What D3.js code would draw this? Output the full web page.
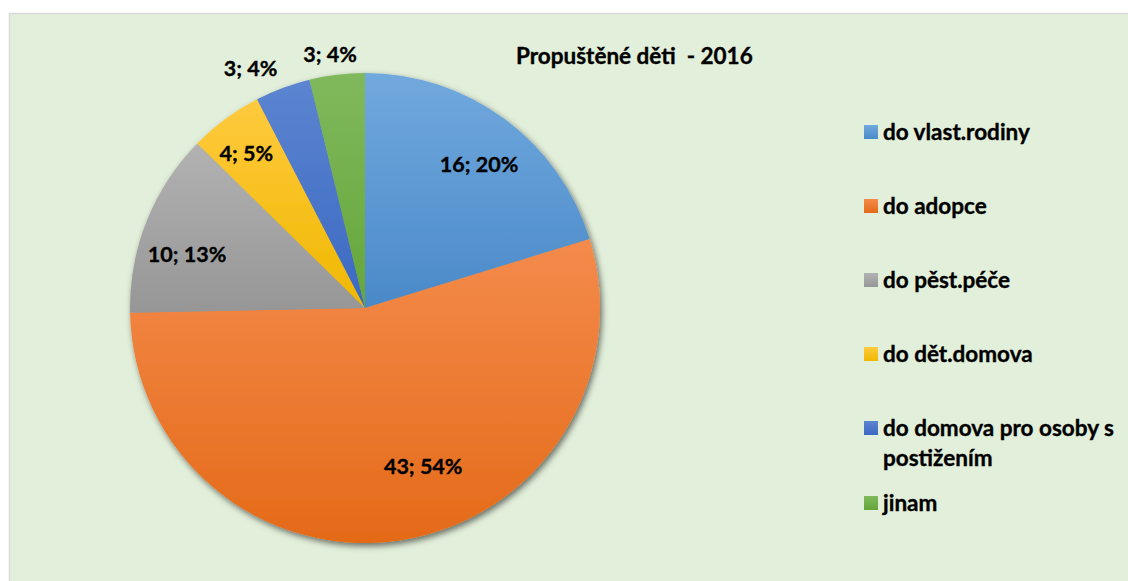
<!DOCTYPE html>
<html>
<head>
<meta charset="utf-8">
<script src="https://cdn.jsdelivr.net/npm/d3@7"></script>
<style>
  body { margin: 0; background: #fff; }
  text { font-family: Lato, "Open Sans", sans-serif; font-weight: 700; fill: #000; stroke: #000; stroke-width: 0.35px; }
</style>
</head>
<body>
<div id="chart"></div>
<script>
var width = 1128, height = 581;

// data
var categories = ["do vlast.rodiny", "do adopce", "do pěst.péče", "do dět.domova", "do domova pro osoby s postižením", "jinam"];
var counts = [16, 43, 10, 4, 3, 3];
var percents = ["20%", "54%", "13%", "5%", "4%", "4%"];
var legendLines = [["do vlast.rodiny"], ["do adopce"], ["do pěst.péče"], ["do dět.domova"], ["do domova pro osoby s", "postižením"], ["jinam"]];
var title = "Propuštěné děti  - 2016";

// colours: [top, bottom] of each slice gradient
var colors = [
  ["#71A9DE", "#4A89C8"],
  ["#F48B4C", "#E46A18"],
  ["#B2B2B2", "#969696"],
  ["#FFCA3E", "#EFB800"],
  ["#5C85D0", "#3B68C2"],
  ["#80B95C", "#64A63A"]
];

// label placement (fraction of radius, nudge in degrees)
var labelRadius = [0.78, 0.72, 0.79, 0.83, 1.13, 1.09];
var labelNudge = [2, -11, -5, -1, -5, -1];

var cx = 365, cy = 308, radius = 235;

var svg = d3.select("#chart").append("svg")
  .attr("width", width)
  .attr("height", height);

var defs = svg.append("defs");

colors.forEach(function(c, i) {
  var g = defs.append("linearGradient")
    .attr("id", "grad" + i)
    .attr("x1", 0).attr("y1", 0).attr("x2", 0).attr("y2", 1);
  g.append("stop").attr("offset", "0%").attr("stop-color", c[0]);
  g.append("stop").attr("offset", "100%").attr("stop-color", c[1]);
});

var shadow = defs.append("filter")
  .attr("id", "shadow")
  .attr("x", "-10%").attr("y", "-10%").attr("width", "120%").attr("height", "120%");
shadow.append("feDropShadow")
  .attr("dx", 2).attr("dy", 3)
  .attr("stdDeviation", 3)
  .attr("flood-color", "#000")
  .attr("flood-opacity", 0.55);

// chart background
svg.append("rect")
  .attr("x", 9.5).attr("y", 13.5)
  .attr("width", width + 10).attr("height", height + 10)
  .attr("fill", "#E2EFDA")
  .attr("stroke", "#D9D9D9")
  .attr("stroke-width", 1.5);

// title
svg.append("text")
  .attr("x", 516).attr("y", 64)
  .style("font-size", "22.5px")
  .style("white-space", "pre")
  .text(title);

var pie = d3.pie().sort(null).value(function(d) { return d; });
var arcs = pie(counts);

var arc = d3.arc().innerRadius(0).outerRadius(radius);

var g = svg.append("g")
  .attr("transform", "translate(" + cx + "," + cy + ")");

g.append("g")
  .attr("filter", "url(#shadow)")
  .selectAll("path")
  .data(arcs)
  .enter()
  .append("path")
  .attr("d", arc)
  .attr("fill", function(d, i) { return "url(#grad" + i + ")"; });

// data labels
g.selectAll(".label")
  .data(arcs)
  .enter()
  .append("text")
  .attr("class", "label")
  .attr("transform", function(d, i) {
    var a = (d.startAngle + d.endAngle) / 2 + labelNudge[i] * Math.PI / 180;
    var r = radius * labelRadius[i];
    return "translate(" + (Math.sin(a) * r) + "," + (-Math.cos(a) * r) + ")";
  })
  .attr("text-anchor", "middle")
  .attr("dy", "0.35em")
  .style("font-size", "21.5px")
  .text(function(d, i) { return counts[i] + "; " + percents[i]; });

// legend
var legendY = [132, 206, 280, 354, 428, 503];
var legend = svg.selectAll(".legend")
  .data(categories)
  .enter()
  .append("g")
  .attr("class", "legend")
  .attr("transform", function(d, i) { return "translate(864," + legendY[i] + ")"; });

legend.append("rect")
  .attr("x", 0).attr("y", -7)
  .attr("width", 14).attr("height", 14)
  .attr("fill", function(d, i) { return "url(#grad" + i + ")"; });

legend.append("text")
  .attr("x", 19)
  .style("font-size", "22.5px")
  .selectAll("tspan")
  .data(function(d, i) { return legendLines[i]; })
  .enter()
  .append("tspan")
  .attr("x", 19)
  .attr("dy", function(d, j) { return j === 0 ? "0.35em" : "30px"; })
  .text(function(d) { return d; });
</script>
</body>
</html>
